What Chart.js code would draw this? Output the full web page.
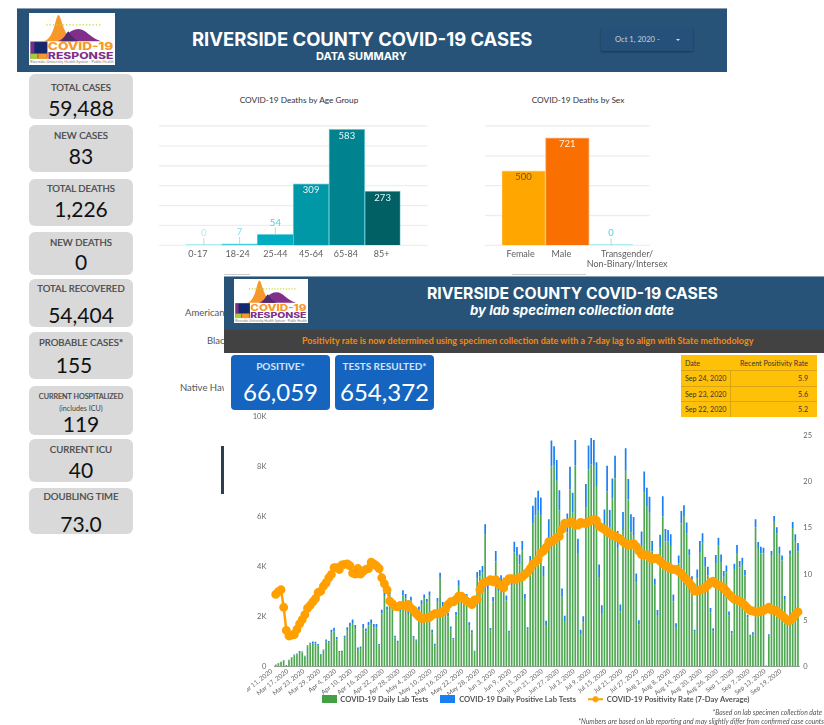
<!DOCTYPE html>
<html>
<head>
<meta charset="utf-8">
<title>Riverside County COVID-19 Cases</title>
<script src="https://cdn.jsdelivr.net/npm/chart.js@4"></script>
<style>
    html, body { margin: 0; padding: 0; background: #fff; overflow: hidden; }
    body { width: 824px; height: 725px; position: relative; font-family: Lato, sans-serif; }
    .abs, canvas, .card, .blue { position: absolute; }
    .band { position: absolute; background: #275378; color: #fff; text-align: center; }
    .logo { position: absolute; background: #fff; }
    .card { left: 29px; width: 104px; background: #d9d9d9; border-radius: 6px; text-align: center; overflow: hidden; }
    .card .lab { position: absolute; left: 0; right: 0; font-size: 9.6px; color: #444; line-height: 12px; -webkit-text-stroke: 0.2px #444; }
    .card .num { position: absolute; left: 0; right: 0; font-size: 21px; color: #111; line-height: 26px; }
    .blue { top: 355px; width: 99px; height: 55px; background: #1565c0; border-radius: 4px; color: #fff; text-align: center; }
    .blue .lab { position: absolute; left: 0; right: 0; top: 4px; font-size: 10px; font-weight: 700; color: #d4e3f6; line-height: 14px; }
    .blue .num { position: absolute; left: 0; right: 0; top: 19px; font-size: 24px; line-height: 36px; }
    .title { position: absolute; font-family: Inter, sans-serif; font-weight: 700; white-space: nowrap; }
    .chart-title { position: absolute; font-size: 8.3px; color: #333; white-space: nowrap; transform: translateX(-50%); }
    .hidden-lab { position: absolute; font-size: 9.5px; color: #555; white-space: nowrap; }
    #panel { position: absolute; left: 224px; top: 276px; width: 600px; height: 449px; background: #fff; }
    #posTable { position: absolute; left: 681px; top: 355px; width: 136px; height: 62px; background: #ffc107; font-size: 7.1px; color: #333; }
    #posTable div { position: absolute; white-space: nowrap; }
    .foot { position: absolute; right: 0; font-size: 6.8px; font-style: italic; color: #555; white-space: nowrap; }
</style>
</head>
<body>

<div class="band" style="left:17px;top:8px;width:710px;height:64px;border-top:1px solid #8a9fb3;box-sizing:border-box;"></div>
<svg class="logo" id="logoTop" style="left:29px;top:13px;width:86px;height:52px;" viewBox="0 0 260 155"></svg>
<div class="title" style="left:192px;top:28px;font-size:18.45px;color:#fff;" id="title1"></div>
<div class="title" style="left:316px;top:49px;font-size:11px;color:#fff;">DATA SUMMARY</div>
<div class="abs" style="left:601px;top:28px;width:92px;height:23px;background:#25507a;box-shadow:0 1px 2px rgba(0,0,0,.35);"></div>
<div class="abs" style="left:615px;top:34px;font-size:7.6px;color:#c7d3df;">Oct 1, 2020 -</div>
<div class="abs" style="left:676px;top:39px;width:0;height:0;border-left:2px solid transparent;border-right:2px solid transparent;border-top:2px solid #d7e0e8;"></div>

<div class="card" style="top:74px;height:45px;"><div class="lab" style="top:8px;">TOTAL CASES</div><div class="num" style="top:21px;">59,488</div></div>
<div class="card" style="top:125px;height:47px;"><div class="lab" style="top:5px;">NEW CASES</div><div class="num" style="top:18px;">83</div></div>
<div class="card" style="top:179px;height:47px;"><div class="lab" style="top:4px;">TOTAL DEATHS</div><div class="num" style="top:17px;">1,226</div></div>
<div class="card" style="top:232px;height:43px;"><div class="lab" style="top:5px;">NEW DEATHS</div><div class="num" style="top:17px;">0</div></div>
<div class="card" style="top:279px;height:48px;"><div class="lab" style="top:4px;">TOTAL RECOVERED</div><div class="num" style="top:23px;">54,404</div></div>
<div class="card" style="top:332px;height:47px;"><div class="lab" style="top:5px;">PROBABLE CASES*</div><div class="num" style="top:20px;left:-14px;">155</div></div>
<div class="card" style="top:386px;height:49px;"><div class="lab" style="top:5px;font-size:7.2px;">CURRENT HOSPITALIZED<br><span style="-webkit-text-stroke:0">(includes ICU)</span></div><div class="num" style="top:25px;">119</div></div>
<div class="card" style="top:439px;height:43px;"><div class="lab" style="top:5px;">CURRENT ICU</div><div class="num" style="top:18px;">40</div></div>
<div class="card" style="top:488px;height:46px;"><div class="lab" style="top:3px;">DOUBLING TIME</div><div class="num" style="top:23px;">73.0</div></div>

<div class="chart-title" style="left:299px;top:95px;">COVID-19 Deaths by Age Group</div>
<canvas id="ageChart" style="left:159px;top:120px;width:269px;height:150px;"></canvas>
<div class="chart-title" style="left:578px;top:95px;">COVID-19 Deaths by Sex</div>
<canvas id="sexChart" style="left:485px;top:120px;width:190px;height:150px;"></canvas>

<div class="hidden-lab" style="left:185px;top:307px;">American Indian</div>
<div class="hidden-lab" style="left:207px;top:335px;">Black</div>
<div class="hidden-lab" style="left:180px;top:382px;">Native Hawaiian</div>
<div class="abs" style="left:221px;top:446px;width:3px;height:48px;background:#2c3e50;"></div>
<div class="abs" style="left:224px;top:274px;width:26px;height:1px;background:#ccc;"></div>
<div class="abs" style="left:512px;top:274px;width:74px;height:1px;background:#ccc;"></div>

<div id="panel"></div>
<div class="band" style="left:224px;top:276px;width:600px;height:54px;border-top:1px solid #8a9fb3;box-sizing:border-box;"></div>
<svg class="logo" id="logoPanel" style="left:234px;top:279px;width:74px;height:44px;" viewBox="0 0 260 155"></svg>
<div class="title" style="left:427px;top:284px;font-size:15.75px;color:#fff;" id="title2"></div>
<div class="title" style="left:470px;top:302px;font-size:13.2px;font-style:italic;color:#fff;">by lab specimen collection date</div>
<div class="band" style="left:224px;top:330px;width:600px;height:23px;background:#424242;"></div>
<div class="abs" style="left:302px;top:335px;font-size:9px;font-weight:700;color:#f08a12;white-space:nowrap;">Positivity rate is now determined using specimen collection date with a 7-day lag to align with State methodology</div>

<div class="blue" style="left:231px;"><div class="lab">POSITIVE*</div><div class="num">66,059</div></div>
<div class="blue" style="left:335px;"><div class="lab">TESTS RESULTED*</div><div class="num">654,372</div></div>

<div id="posTable"></div>

<canvas id="testChart" style="left:247px;top:410px;width:577px;height:315px;"></canvas>

<div class="foot" style="top:708px;right:2px;">*Based on lab specimen collection date</div>
<div class="foot" style="top:717px;">*Numbers are based on lab reporting and may slightly differ from confirmed case counts</div>

<script>
// Deaths by age group
const ageLabels = ["0-17", "18-24", "25-44", "45-64", "65-84", "85+"];
const ageDeaths = [0, 7, 54, 309, 583, 273];

// Deaths by sex
const sexLabels = ["Female", "Male", ["Transgender/", "Non-Binary/Intersex"]];
const sexDeaths = [500, 721, 0];

// Recent positivity table
const tableDates = ["Sep 24, 2020", "Sep 23, 2020", "Sep 22, 2020"];
const tableRates = ["5.9", "5.6", "5.2"];

// One x label every 6 days, starting on Mar 11, 2020
const tickLabels = ["Mar 11, 2020", "Mar 17, 2020", "Mar 23, 2020", "Mar 29, 2020", "Apr 4, 2020", "Apr 10, 2020", "Apr 16, 2020",
    "Apr 22, 2020", "Apr 28, 2020", "May 4, 2020", "May 10, 2020", "May 16, 2020", "May 22, 2020", "May 28, 2020", "Jun 3, 2020",
    "Jun 9, 2020", "Jun 15, 2020", "Jun 21, 2020", "Jun 27, 2020", "Jul 3, 2020", "Jul 9, 2020", "Jul 15, 2020", "Jul 21, 2020",
    "Jul 27, 2020", "Aug 2, 2020", "Aug 8, 2020", "Aug 14, 2020", "Aug 20, 2020", "Aug 26, 2020", "Sep 1, 2020", "Sep 7, 2020",
    "Sep 13, 2020", "Sep 19, 2020"];

// Daily values, Mar 11 to Sep 24 (198 days)
const labTests = [
    75, 130, 175, 240, 55, 250, 355, 450, 485, 580,
    560, 400, 800, 890, 935, 925, 840, 465, 635, 1010,
    950, 1350, 1410, 1090, 575, 580, 1150, 1460, 1620, 1740,
    1540, 700, 740, 1530, 1400, 1650, 1740, 1570, 1570, 840,
    2120, 2820, 2250, 2880, 2550, 1160, 980, 2170, 2850, 2730,
    2100, 2630, 1150, 1030, 2270, 2470, 2730, 2570, 2830, 1370,
    860, 2590, 3550, 2410, 2200, 2010, 1510, 1080, 2050, 3230,
    2720, 2720, 2730, 1660, 1370, 590, 3530, 3600, 3750, 5290,
    3100, 1450, 2590, 4200, 2990, 3350, 3270, 2640, 1350, 3250,
    4570, 4410, 4080, 4640, 2710, 1470, 4100, 5710, 6050, 6230,
    6040, 3620, 1660, 5090, 8000, 8030, 7430, 6250, 2790, 1790,
    5370, 7090, 6150, 8040, 4540, 1280, 1770, 6350, 7890, 8090,
    8060, 7220, 3580, 2140, 5580, 7010, 5560, 6720, 7530, 4780,
    2200, 5460, 7830, 6680, 5370, 5260, 3370, 1690, 4830, 6970,
    6420, 6150, 4600, 3270, 2060, 4750, 6010, 5000, 5010, 4820,
    2600, 1580, 4120, 5720, 6020, 5330, 4440, 3470, 1390, 3530,
    4550, 4950, 3990, 3650, 2170, 1410, 4140, 4830, 4180, 3590,
    3770, 2050, 1320, 3900, 4540, 3970, 4100, 3650, 1970, 1220,
    1270, 5570, 4740, 4530, 4530, 30, 1230, 4460, 5820, 5330,
    4540, 4240, 2700, 1710, 4490, 5540, 5020, 4610
];
const positiveTests = [
    5, 10, 15, 20, 5, 20, 25, 30, 35, 40,
    40, 30, 50, 60, 65, 65, 60, 35, 45, 70,
    70, 120, 140, 90, 45, 50, 80, 110, 130, 140,
    120, 60, 60, 170, 120, 130, 140, 130, 130, 60,
    150, 180, 150, 170, 150, 70, 50, 130, 200, 170,
    150, 160, 70, 50, 130, 180, 150, 130, 170, 100,
    50, 150, 200, 170, 140, 130, 90, 60, 130, 220,
    180, 180, 170, 110, 80, 40, 250, 260, 270, 400,
    300, 90, 190, 420, 290, 300, 280, 200, 80, 300,
    420, 370, 400, 380, 190, 100, 320, 720, 710, 800,
    720, 400, 170, 800, 1040, 780, 830, 800, 330, 240,
    750, 900, 800, 1020, 570, 190, 240, 950, 950, 1050,
    1000, 950, 500, 310, 700, 1020, 700, 800, 900, 640,
    280, 720, 900, 820, 720, 720, 350, 160, 570, 830,
    730, 640, 420, 240, 200, 520, 800, 500, 450, 470,
    280, 150, 320, 500, 430, 430, 250, 140, 80, 350,
    470, 380, 390, 340, 170, 120, 320, 320, 300, 230,
    270, 150, 100, 210, 320, 250, 250, 210, 100, 50,
    100, 320, 240, 260, 220, 5, 60, 160, 200, 240,
    250, 200, 120, 60, 150, 240, 270, 330
];
const positivityRate = [
    7.8, 8.1, 8.3, 6.4, 3.9, 3.3, 3.4, 3.45, 4.0, 4.6,
    5.07, 5.6, 6.3, 6.6, 7.0, 7.35, 8.0, 8.15, 8.7, 9.06,
    9.6, 9.96, 10.7, 10.7, 10.5, 11.0, 11.05, 11.1, 10.9, 10.1,
    10.0, 10.6, 10.0, 10.3, 10.5, 10.6, 11.3, 11.1, 10.9, 10.6,
    9.6, 8.95, 8.3, 7.07, 6.8, 6.5, 6.45, 6.6, 6.6, 6.5,
    6.7, 6.3, 6.1, 5.7, 5.4, 5.2, 5.2, 5.25, 5.3, 5.55,
    5.7, 5.7, 5.8, 5.9, 6.15, 6.7, 7.0, 7.0, 7.25, 7.6,
    7.6, 7.35, 7.07, 6.9, 6.7, 7.2, 7.25, 8.3, 8.95, 9.13,
    9.2, 9.4, 9.17, 9.4, 8.9, 8.8, 8.5, 9.17, 9.5, 9.5,
    9.35, 9.5, 9.6, 9.7, 9.96, 10.2, 10.6, 11.1, 11.3, 11.6,
    12.3, 12.5, 12.9, 13.5, 13.5, 13.66, 14.0, 14.1, 14.85, 15.5,
    15.5, 15.6, 15.6, 15.3, 15.3, 15.6, 15.5, 15.5, 15.65, 15.8,
    15.9, 15.8, 15.2, 15.0, 14.85, 14.6, 14.4, 14.2, 14.1, 13.95,
    13.8, 13.5, 13.3, 13.15, 13.2, 13.3, 13.0, 12.5, 12.1, 12.07,
    12.07, 11.8, 11.6, 11.7, 11.7, 11.4, 11.1, 10.9, 10.8, 10.6,
    10.5, 10.5, 10.3, 10.07, 9.7, 9.4, 9.06, 8.7, 8.15, 8.15,
    8.26, 8.4, 8.5, 8.8, 9.13, 9.24, 8.95, 8.8, 8.66, 8.5,
    8.15, 7.8, 7.5, 7.25, 7.2, 7.07, 6.9, 6.6, 6.3, 6.05,
    6.0, 5.9, 5.87, 6.0, 6.05, 6.2, 6.4, 6.1, 6.1, 6.0,
    5.7, 5.55, 5.25, 5.0, 5.0, 5.2, 5.6, 5.9
];

const bannerTitle = "RIVERSIDE COUNTY COVID-19 CASES";
document.getElementById("title1").textContent = bannerTitle;
document.getElementById("title2").textContent = bannerTitle;

// Logo is drawn twice, same svg in both headers
const logoSvg = `
    <rect width="260" height="155" fill="#fff"/>
    <path d="M45 84 C78 76 80 5 89 5 C98 5 100 62 135 84 Z" fill="#f7982a"/>
    <path d="M88 84 C115 70 120 48 150 47 C172 47 185 74 218 84 Z" fill="#80308a"/>
    <path d="M98 84 C108 72 112 60 119 54 C128 68 135 76 150 84 Z" fill="#4f2a6e"/>
    <line x1="52" y1="35" x2="218" y2="35" stroke="#c6d92e" stroke-width="4" stroke-dasharray="4 6"/>
    <rect x="4" y="85" width="52" height="52" fill="#7b2d8b"/>
    <rect x="16" y="87" width="38" height="33" fill="#13296b"/>
    <rect x="4" y="122" width="22" height="16" fill="#a6ce39"/>
    <rect x="28" y="122" width="26" height="16" fill="#f7982a"/>
    <text x="57" y="111" font-family="Inter, sans-serif" font-weight="800" font-size="31" fill="#f7982a" textLength="198" lengthAdjust="spacingAndGlyphs">COVID-19</text>
    <text x="57" y="138" font-family="Inter, sans-serif" font-weight="800" font-size="27" fill="#80308a" textLength="198" lengthAdjust="spacingAndGlyphs">RESPONSE</text>
    <text x="4" y="150" font-family="Lato, sans-serif" font-size="10" fill="#777" textLength="252" lengthAdjust="spacingAndGlyphs">Riverside University Health System - Public Health</text>`;
document.getElementById("logoTop").innerHTML = logoSvg;
document.getElementById("logoPanel").innerHTML = logoSvg;

// Build the little yellow table
function buildTable() {
    const t = document.getElementById("posTable");
    const rowTops = [15, 31, 46];
    let html = `<div style="left:4px;top:4px;">Date</div><div style="right:9px;top:4px;">Recent Positivity Rate</div>`;
    html += `<div style="left:49px;top:15px;width:1px;height:47px;background:#d9a514;"></div>`;
    tableDates.forEach((d, i) => {
        html += `<div style="left:0;right:0;top:${rowTops[i]}px;height:1px;background:#d9a514;"></div>`;
        html += `<div style="left:4px;top:${rowTops[i] + 4}px;">${d}</div>`;
        html += `<div style="right:9px;top:${rowTops[i] + 4}px;">${tableRates[i]}</div>`;
    });
    t.innerHTML = html;
}
buildTable();

// Draws long grid lines, value labels and tick labels for the two small bar charts
const barExtras = {
    id: "barExtras",
    beforeDatasetsDraw(chart, args, opts) {
        const ctx = chart.ctx;
        const area = chart.chartArea;
        const y = chart.scales.y;
        ctx.save();
        ctx.strokeStyle = "#eeeeee";
        ctx.lineWidth = 1.3;
        y.ticks.forEach(t => {
            const py = y.getPixelForValue(t.value);
            ctx.beginPath();
            ctx.moveTo(area.left - opts.gridExtend, py);
            ctx.lineTo(area.right + opts.gridExtend, py);
            ctx.stroke();
        });
        ctx.restore();
    },
    afterDatasetsDraw(chart, args, opts) {
        const ctx = chart.ctx;
        const meta = chart.getDatasetMeta(0);
        const base = chart.scales.y.getPixelForValue(0);
        const values = chart.data.datasets[0].data;
        ctx.save();
        ctx.textAlign = "center";
        ctx.textBaseline = "middle";
        meta.data.forEach((bar, i) => {
            ctx.font = "9.5px Lato";
            ctx.fillStyle = opts.textColors[i];
            const top = chart.scales.y.getPixelForValue(values[i]);
            if (base - top > 30) {
                ctx.fillText(values[i], bar.x, top + 6.5);
            } else {
                ctx.fillText(values[i], bar.x, top - 12);
                ctx.strokeStyle = "#c4c4c4";
                ctx.lineWidth = 0.8;
                ctx.beginPath();
                ctx.moveTo(bar.x, top - 7);
                ctx.lineTo(bar.x, top);
                ctx.stroke();
            }
            // tick label under the bar
            ctx.font = "9px Lato";
            ctx.fillStyle = "#5f5f5f";
            const lab = chart.data.labels[i];
            const lines = Array.isArray(lab) ? lab : [lab];
            lines.forEach((line, n) => {
                ctx.fillText(line, bar.x + opts.tickShift[i], base + 8.5 + n * 10);
            });
        });
        ctx.restore();
    }
};

function smallBarChart(id, labels, values, maxY, step, colors, borders, textColors, padding, gridExtend, tickShift) {
    return new Chart(document.getElementById(id), {
        type: "bar",
        data: {
            labels: labels,
            datasets: [{
                data: values,
                backgroundColor: colors,
                borderColor: borders,
                borderWidth: 1,
                minBarLength: 1,
                barPercentage: 1,
                categoryPercentage: 1
            }]
        },
        options: {
            responsive: false,
            animation: false,
            layout: { padding: padding },
            scales: {
                x: { display: false },
                y: { display: false, min: 0, max: maxY, ticks: { stepSize: step } }
            },
            plugins: {
                legend: { display: false },
                tooltip: { enabled: false },
                barExtras: { textColors: textColors, gridExtend: gridExtend, tickShift: tickShift }
            }
        },
        plugins: [barExtras]
    });
}

function sizeCanvas(id, w, h) {
    const c = document.getElementById(id);
    c.width = w;
    c.height = h;
}
sizeCanvas("ageChart", 269, 150);
sizeCanvas("sexChart", 190, 150);
sizeCanvas("testChart", 577, 315);

smallBarChart("ageChart", ageLabels, ageDeaths, 600, 100,
    ["#b2ebf2", "#4dd0e1", "#00acc1", "#0097a7", "#00838f", "#006064"],
    ["#b2ebf2", "#4dd0e1", "#00acc1", "#62c4d0", "#62c4d0", "#62c4d0"],
    ["#b2ebf2", "#80deea", "#4dd0e1", "#e6f7f9", "#e6f7f9", "#e6f7f9"],
    { left: 27, right: 27.5, top: 6, bottom: 24.7 }, 27, [-6, -2, 0, 0, -1, -1]);

smallBarChart("sexChart", sexLabels, sexDeaths, 800, 100,
    ["#ffa600", "#f97000", "#b2ebf2"],
    ["#ffd180", "#ffb280", "#b2ebf2"],
    ["#6b5a20", "#fff3e6", "#4dd0e1"],
    { left: 16.7, right: 42, top: 6, bottom: 24.7 }, 16.7, [-3, -6, 16]);

// Little images for the legend, line series gets a line with a dot
function legendIcon(color, isLine) {
    const c = document.createElement("canvas");
    c.width = 15;
    c.height = 8;
    const g = c.getContext("2d");
    g.fillStyle = color;
    if (isLine) {
        g.fillRect(0, 3, 15, 2);
        g.beginPath();
        g.arc(7.5, 4, 3, 0, Math.PI * 2);
        g.fill();
    } else {
        g.fillRect(0, 0, 15, 8);
    }
    return c;
}
const legendIcons = [legendIcon("#43a047", false), legendIcon("#1a7ff0", false), legendIcon("#ffa000", true)];

// Legend sits closer to the axis in the original
const moveLegend = {
    id: "moveLegend",
    afterLayout(chart) {
        chart.legend.top -= 12;
        chart.legend.bottom -= 12;
    }
};

new Chart(document.getElementById("testChart"), {
    type: "bar",
    data: {
        labels: labTests.map((v, i) => tickLabels[i / 6] || ""),
        datasets: [
            {
                label: "COVID-19 Daily Lab Tests",
                data: labTests,
                backgroundColor: "#4ea852",
                stack: "tests",
                order: 2,
                barPercentage: 0.64,
                categoryPercentage: 1
            },
            {
                label: "COVID-19 Daily Positive Lab Tests",
                data: positiveTests,
                backgroundColor: "#1a7ff0",
                stack: "tests",
                order: 2,
                barPercentage: 0.64,
                categoryPercentage: 1
            },
            {
                type: "line",
                label: "COVID-19 Positivity Rate (7-Day Average)",
                data: positivityRate,
                yAxisID: "y2",
                borderColor: "#ffa000",
                backgroundColor: "#ffa000",
                borderWidth: 2.5,
                pointRadius: 3.2,
                tension: 0,
                order: 1
            }
        ]
    },
    options: {
        responsive: false,
        animation: false,
        layout: { padding: { top: 6 } },
        scales: {
            x: {
                stacked: true,
                grid: { display: false, drawTicks: false },
                border: { color: "#9e9e9e" },
                afterFit(scale) { scale.height = 29; scale.paddingLeft = 0; scale.paddingRight = 0; },
                ticks: {
                    autoSkip: false,
                    minRotation: 38,
                    maxRotation: 38,
                    padding: 1,
                    labelOffset: -4,
                    color: "#666",
                    font: { family: "Lato", size: 6.4 }
                }
            },
            y: {
                stacked: true,
                min: 0,
                max: 10000,
                grid: { display: false, drawTicks: false },
                border: { display: false },
                afterFit(scale) { scale.width = 27.4; scale.paddingTop = 0; scale.paddingBottom = 0; },
                ticks: {
                    stepSize: 2000,
                    padding: 8,
                    color: "#666",
                    font: { family: "Lato", size: 7.5 },
                    callback: v => (v === 0 ? "0" : v / 1000 + "K")
                }
            },
            y2: {
                position: "right",
                min: 0,
                max: 27.07,
                grid: { display: false, drawTicks: false },
                border: { display: false },
                afterFit(scale) { scale.width = 24.7; scale.paddingTop = 0; scale.paddingBottom = 0; },
                ticks: {
                    stepSize: 5,
                    includeBounds: false,
                    padding: 4,
                    color: "#666",
                    font: { family: "Lato", size: 7.5 }
                }
            }
        },
        plugins: {
            tooltip: { enabled: false },
            legend: {
                position: "bottom",
                labels: {
                    usePointStyle: true,
                    pointStyleWidth: 15,
                    padding: 12,
                    color: "#555",
                    font: { family: "Lato", size: 7.6, weight: "bold" },
                    sort: (a, b) => a.datasetIndex - b.datasetIndex,
                    generateLabels(chart) {
                        const items = Chart.defaults.plugins.legend.labels.generateLabels(chart);
                        items.forEach(item => { item.pointStyle = legendIcons[item.datasetIndex]; });
                        return items;
                    }
                }
            }
        }
    },
    plugins: [moveLegend]
});
</script>
</body>
</html>
